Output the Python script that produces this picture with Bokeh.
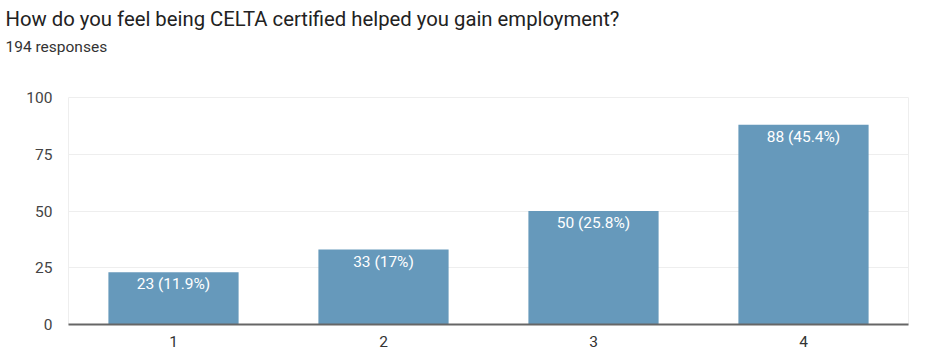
from bokeh.plotting import figure
from bokeh.models import ColumnDataSource, FactorRange, Range1d, FixedTicker, Title
from bokeh.embed import file_html
from bokeh.resources import INLINE

categories = ["1", "2", "3", "4"]
counts = [23, 33, 50, 88]
labels = ["23 (11.9%)", "33 (17%)", "50 (25.8%)", "88 (45.4%)"]
y_ticks = [0, 25, 50, 75, 100]

FONT = "Roboto"
BAR = "#6699bb"

src = ColumnDataSource(dict(cat=categories, val=counts, lab=labels))

p = figure(width=925, height=358, x_range=FactorRange(*categories, range_padding=0),
           y_range=Range1d(0, 100), output_backend="svg", toolbar_location=None,
           title=None,
           min_border_left=68, min_border_right=17, min_border_bottom=34, min_border_top=0)

spacer = Title(text=" ", text_font=FONT, text_font_size="1px", standoff=38)
p.add_layout(spacer, "above")
sub = Title(text="194 responses", text_font=FONT, text_font_size="15.5px", text_color="#333333",
            text_font_style="normal", align="left", offset=-63, standoff=2)
p.add_layout(sub, "above")
main = Title(text="How do you feel being CELTA certified helped you gain employment?",
             text_font=FONT, text_font_size="20.3px", text_font_style="normal",
             text_color="#222222", align="left", offset=-63, standoff=8)
p.add_layout(main, "above")

p.vbar(x="cat", top="val", width=0.62, source=src, fill_color=BAR, line_color=None)
p.text(x="cat", y="val", text="lab", source=src, text_color="white", text_align="center",
       text_baseline="top", y_offset=3, text_font_size="15.5px", text_font={"value": FONT})

p.outline_line_color = "#eeeeee"
p.xgrid.grid_line_color = None
p.ygrid.grid_line_color = "#eeeeee"
p.ygrid.ticker = FixedTicker(ticks=y_ticks)

p.yaxis.ticker = FixedTicker(ticks=y_ticks)
p.yaxis.axis_line_color = None
p.yaxis.major_tick_line_color = None
p.yaxis.minor_tick_line_color = None
p.yaxis.major_label_text_font = FONT
p.yaxis.major_label_text_font_size = "15.5px"
p.yaxis.major_label_text_color = "#444444"
p.yaxis.major_label_standoff = 10

p.xaxis.axis_line_color = "#666666"
p.xaxis.axis_line_width = 2
p.xaxis.major_tick_line_color = None
p.xaxis.minor_tick_line_color = None
p.xaxis.major_label_text_font = FONT
p.xaxis.major_label_text_font_size = "15.5px"
p.xaxis.major_label_text_color = "#333333"
p.xaxis.major_label_standoff = 5

open("out.html", "w").write(file_html(p, INLINE))
